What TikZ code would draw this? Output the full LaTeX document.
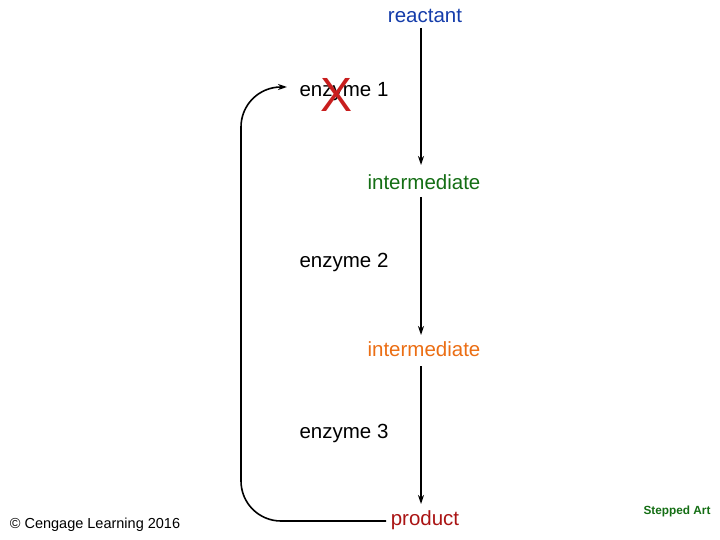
\documentclass[tikz,border=0pt]{standalone}
\usepackage{fontspec}
\setmainfont{Liberation Sans}
\usetikzlibrary{arrows.meta}
\definecolor{cblue}{RGB}{20,60,170}
\definecolor{cgreen}{RGB}{20,110,20}
\definecolor{corange}{RGB}{235,110,20}
\definecolor{cred}{RGB}{170,20,20}
\definecolor{xred}{RGB}{200,30,30}
\tikzset{lbl/.style={inner sep=1pt,font=\fontsize{20.5}{24}\selectfont},
 arr/.style={-{Stealth[length=9pt,width=6pt]},line width=1.3pt}}
\begin{document}
\begin{tikzpicture}[x=1pt,y=-1pt]
\useasboundingbox (0,0) rectangle (720,540);
\node[lbl,text=cblue] (r) at (425,16) {reactant};
\node[lbl] (e1) at (344,92) {enzyme 1};
\node[text=xred,font=\fontsize{48}{48}\selectfont,inner sep=0] (x) at (337,95) {X};
\node[lbl,text=cgreen] (i1) at (424,182) {intermediate};
\node[lbl] (e2) at (344,262) {enzyme 2};
\node[lbl,text=corange] (i2) at (424,349) {intermediate};
\node[lbl] (e3) at (344,433) {enzyme 3};
\node[lbl,text=cred] (p) at (425,520) {product};
\node[font=\fontsize{14.5}{16}\selectfont] (c) at (95,525) {© Cengage Learning 2016};
\node[font=\fontsize{11.8}{13}\selectfont\bfseries,text=cgreen] (s) at (677,511) {Stepped Art};
\coordinate (a0) at (421,28); \coordinate (a1) at (421,165);
\coordinate (b0) at (421,197); \coordinate (b1) at (421,335);
\coordinate (c0) at (421,366); \coordinate (c1) at (421,504);
\draw[arr] (a0) -- (a1);
\draw[arr] (b0) -- (b1);
\draw[arr] (c0) -- (c1);
\coordinate (f0) at (386,521); \coordinate (f1) at (287,87);
\draw[arr,line width=1.6pt,rounded corners=40pt] (f0) -- (241,521) -- (241,87) -- (f1);
\end{tikzpicture}
\end{document}
